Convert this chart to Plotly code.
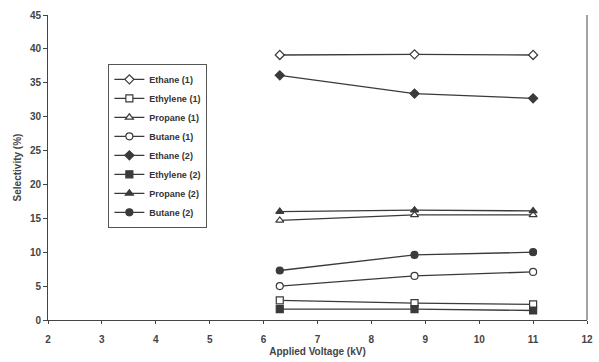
import plotly.graph_objects as go

voltage = [6.3, 8.8, 11.0]
ethane1 = [39.1, 39.2, 39.1]
ethylene1 = [2.9, 2.5, 2.3]
propane1 = [14.7, 15.5, 15.5]
butane1 = [5.0, 6.5, 7.1]
ethane2 = [36.1, 33.4, 32.7]
ethylene2 = [1.6, 1.6, 1.4]
propane2 = [16.0, 16.2, 16.1]
butane2 = [7.3, 9.6, 10.0]

names = ["Ethane (1)", "Ethylene (1)", "Propane (1)", "Butane (1)",
         "Ethane (2)", "Ethylene (2)", "Propane (2)", "Butane (2)"]
series = [ethane1, ethylene1, propane1, butane1, ethane2, ethylene2, propane2, butane2]
symbols = ["diamond", "square", "triangle-up", "circle",
           "diamond", "square", "triangle-up", "circle"]
filled = [False, False, False, False, True, True, True, True]
sizes = [7, 7, 7, 7, 7, 7, 7, 7]

col = "#3a3a3a"
FAM = "Liberation Sans, Arial, sans-serif"
fig = go.Figure()
for n, s, sym, f, sz in zip(names, series, symbols, filled, sizes):
    fig.add_trace(go.Scatter(
        x=voltage, y=s, name=n, mode="lines+markers",
        line=dict(color=col, width=1.3),
        marker=dict(symbol=sym, size=sz, color=col if f else "white",
                    line=dict(color=col, width=1.2)),
    ))

fig.update_layout(
    width=599, height=362,
    margin=dict(l=48, r=6, t=15, b=42),
    paper_bgcolor="white", plot_bgcolor="white",
    font=dict(family=FAM, size=10, color="#444", weight="bold"),
    showlegend=True,
    legend=dict(x=0.112, y=0.84, xanchor="left", yanchor="top",
                bordercolor="#555", borderwidth=1, bgcolor="white",
                font=dict(family=FAM, size=9, color="#333", weight="bold"),
                tracegroupgap=0, itemwidth=30),
    xaxis=dict(range=[2, 12], tickmode="linear", tick0=2, dtick=1,
               showgrid=False, zeroline=False, showline=True, linecolor="#444",
               linewidth=1, ticks="outside", ticklen=3, tickcolor="#444",
               ticklabelstandoff=7,
               tickfont=dict(family=FAM, size=10, color="#444", weight="bold"),
               title=dict(text="Applied Voltage (kV)", standoff=3,
                          font=dict(family=FAM, size=10, color="#444", weight="bold"))),
    yaxis=dict(range=[0, 45], tickmode="linear", tick0=0, dtick=5,
               showgrid=False, zeroline=False, showline=True, linecolor="#444",
               linewidth=1, ticks="outside", ticklen=4, tickcolor="#444",
               tickfont=dict(family=FAM, size=10, color="#444", weight="bold"),
               title=dict(text="Selectivity (%)", standoff=6,
                          font=dict(family=FAM, size=10, color="#444", weight="bold"))),
)
fig.add_shape(type="line", xref="paper", yref="paper", x0=1, x1=1, y0=0, y1=1,
              line=dict(color="#444", width=1))
fig.write_html("out.html")
